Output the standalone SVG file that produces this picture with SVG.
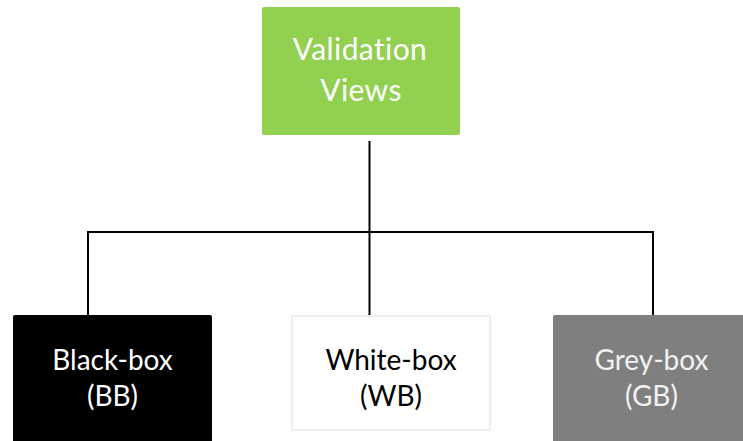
<svg xmlns="http://www.w3.org/2000/svg" width="743" height="441" viewBox="0 0 743 441">
  <style>
    .lbl { font-family: "Lato", "Open Sans", "Liberation Sans", sans-serif; font-size: 28px; text-anchor: middle; }
    .top { font-size: 30px; letter-spacing: 0.4px; }
    .wire { fill: none; stroke: #000; stroke-width: 2; }
  </style>
  <rect width="743" height="441" fill="#fff"/>
  <g id="connectors">
    <path class="wire" d="M369.5 141 V315"/>
    <path class="wire" d="M88 315 V232 H653 V315"/>
  </g>
  <g id="validation-views">
    <rect x="262" y="7" width="198" height="128" rx="2" fill="#92d050"/>
    <text class="lbl top" x="360" y="60" fill="#fff">Validation</text>
    <text class="lbl top" x="361" y="101" fill="#fff">Views</text>
  </g>
  <g id="black-box">
    <rect x="13" y="315" width="199" height="130" rx="2" fill="#000"/>
    <text class="lbl" x="112.5" y="370" fill="#fff">Black-box</text>
    <text class="lbl" x="112.5" y="406" fill="#fff">(BB)</text>
  </g>
  <g id="white-box">
    <rect x="292" y="316" width="198" height="114" fill="#fff" stroke="#eeeeee" stroke-width="2"/>
    <text class="lbl" x="391" y="370" fill="#000">White-box</text>
    <text class="lbl" x="391" y="406" fill="#000">(WB)</text>
  </g>
  <g id="grey-box">
    <rect x="553" y="315" width="199" height="130" rx="2" fill="#7f7f7f"/>
    <text class="lbl" x="651.5" y="370" fill="#f2f2f2">Grey-box</text>
    <text class="lbl" x="651.5" y="406" fill="#f2f2f2">(GB)</text>
  </g>
</svg>
